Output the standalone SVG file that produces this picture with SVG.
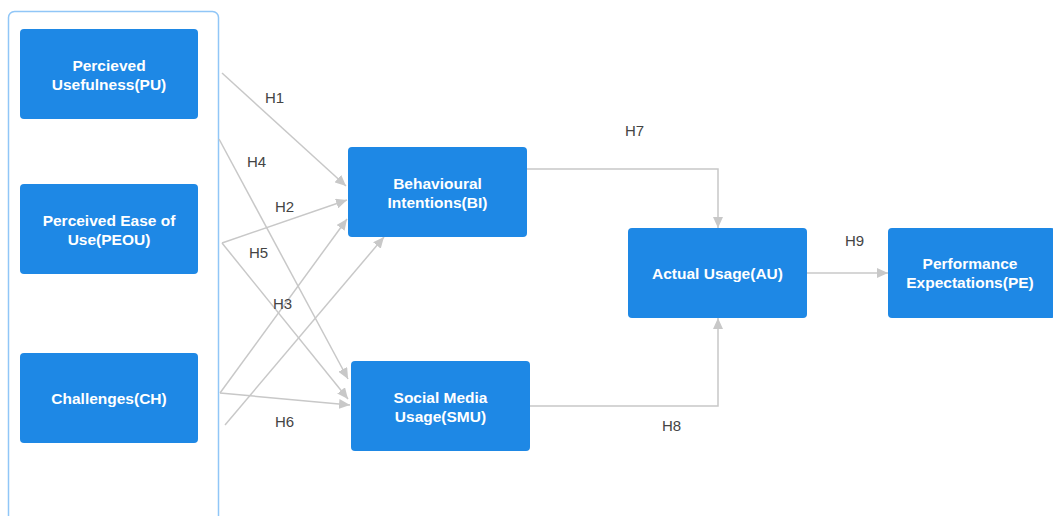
<svg xmlns="http://www.w3.org/2000/svg" width="1053" height="516" viewBox="0 0 1053 516">
<defs>
<style>
.node rect{fill:#1e88e5;}
.node text{fill:#ffffff;font-family:"Liberation Sans",Arial,sans-serif;font-weight:bold;font-size:15.5px;text-anchor:middle;}
.conn path{fill:none;stroke:#c8c8c8;stroke-width:1.5;}
.lbl{fill:#444444;font-family:"Liberation Sans",Arial,sans-serif;font-size:15px;}
</style>
<marker id="arr" markerUnits="userSpaceOnUse" markerWidth="12" markerHeight="10" refX="11" refY="5" orient="auto">
<path d="M0,0 L11,5 L0,10 z" fill="#c8c8c8"/>
</marker>
</defs>
<rect width="1053" height="516" fill="#ffffff"/>
<rect id="container" x="8.5" y="11.5" width="210" height="520" rx="6" fill="none" stroke="#90c6f7" stroke-width="1.5"/>
<g class="conn">
<path d="M222,73 L346,186" marker-end="url(#arr)"/>
<path d="M219,139 L348,379" marker-end="url(#arr)"/>
<path d="M222,243 L347,200" marker-end="url(#arr)"/>
<path d="M222,243 L348,399" marker-end="url(#arr)"/>
<path d="M220,393 L347,219" marker-end="url(#arr)"/>
<path d="M225,425 L384,237" marker-end="url(#arr)"/>
<path d="M220,393 L350,405" marker-end="url(#arr)"/>
<path d="M527,169 H718 V228" marker-end="url(#arr)"/>
<path d="M530,406 H718 V318" marker-end="url(#arr)"/>
<path d="M807,273 H888" marker-end="url(#arr)"/>
</g>
<g id="labels">
<text class="lbl" x="265" y="103">H1</text>
<text class="lbl" x="247" y="167">H4</text>
<text class="lbl" x="275" y="212">H2</text>
<text class="lbl" x="249" y="258">H5</text>
<text class="lbl" x="273" y="309">H3</text>
<text class="lbl" x="275" y="427">H6</text>
<text class="lbl" x="625" y="136">H7</text>
<text class="lbl" x="662" y="431">H8</text>
<text class="lbl" x="845" y="246">H9</text>
</g>
<g id="PU" class="node">
<rect x="20" y="29" width="178" height="90" rx="4"/>
<text x="109" y="71">Percieved</text>
<text x="109" y="90">Usefulness(PU)</text>
</g>
<g id="PEOU" class="node">
<rect x="20" y="184" width="178" height="90" rx="4"/>
<text x="109" y="226">Perceived Ease of</text>
<text x="109" y="245">Use(PEOU)</text>
</g>
<g id="CH" class="node">
<rect x="20" y="353" width="178" height="90" rx="4"/>
<text x="109" y="404">Challenges(CH)</text>
</g>
<g id="BI" class="node">
<rect x="348" y="147" width="179" height="90" rx="4"/>
<text x="437.5" y="189">Behavioural</text>
<text x="437.5" y="208">Intentions(BI)</text>
</g>
<g id="SMU" class="node">
<rect x="351" y="361" width="179" height="90" rx="4"/>
<text x="440.5" y="403">Social Media</text>
<text x="440.5" y="422">Usage(SMU)</text>
</g>
<g id="AU" class="node">
<rect x="628" y="228" width="179" height="90" rx="4"/>
<text x="717.5" y="279">Actual Usage(AU)</text>
</g>
<g id="PE" class="node">
<rect x="888" y="228" width="167" height="90" rx="4"/>
<text x="970" y="269">Performance</text>
<text x="970" y="288">Expectations(PE)</text>
</g>
</svg>
